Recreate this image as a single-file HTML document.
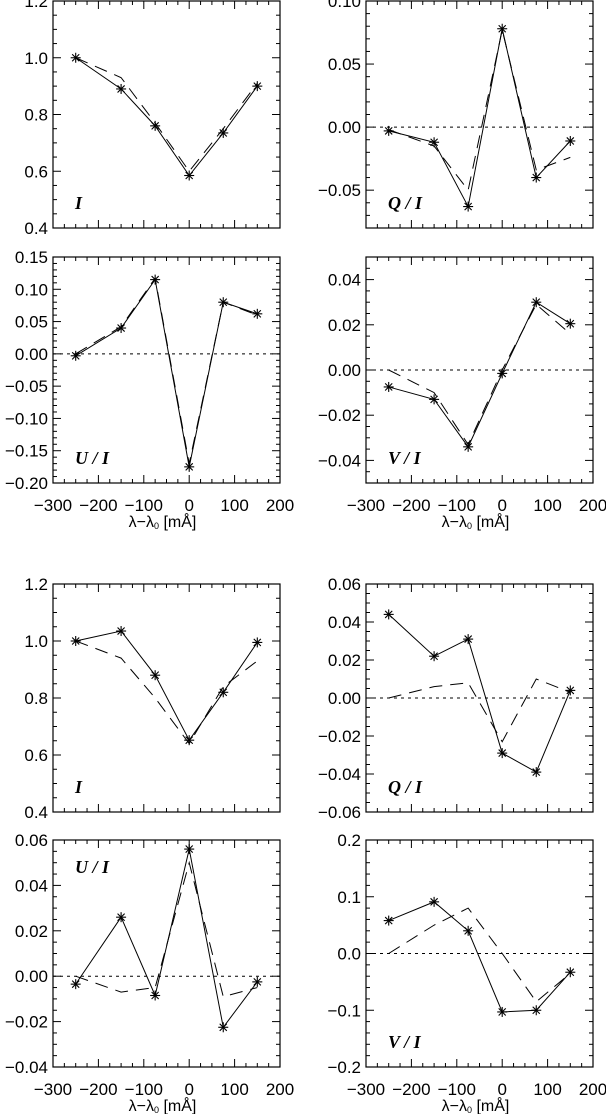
<!DOCTYPE html>
<html><head><meta charset="utf-8">
<style>
html,body{margin:0;padding:0;background:#fff;}
svg{display:block;font-family:"Liberation Sans",sans-serif;}
</style></head>
<body>
<svg id="fig" width="606" height="1114" viewBox="0 0 606 1114" xmlns="http://www.w3.org/2000/svg"></svg>
<script>
const xs = [-250, -150, -75, 0, 75, 150];
const xTicks = [-300, -200, -100, 0, 100, 200];
const xTickLabels = ["\u2212300", "\u2212200", "\u2212100", "0", "100", "200"];

const p1Solid = [1.0, 0.89, 0.76, 0.585, 0.735, 0.9];
const p1Dash = [1.0, 0.93, 0.77, 0.6, 0.75, 0.91];
const p2Solid = [-0.003, -0.012, -0.063, 0.078, -0.040, -0.011];
const p2Dash = [-0.002, -0.015, -0.05, 0.077, -0.034, -0.024];
const p3Solid = [-0.003, 0.04, 0.115, -0.175, 0.08, 0.062];
const p3Dash = [0.0, 0.042, 0.117, -0.17, 0.08, 0.06];
const p4Solid = [-0.0075, -0.013, -0.034, -0.0015, 0.030, 0.0205];
const p4Dash = [0.0, -0.01, -0.033, 0.0, 0.029, 0.016];
const p5Solid = [1.0, 1.035, 0.88, 0.652, 0.82, 0.995];
const p5Dash = [1.0, 0.94, 0.80, 0.64, 0.84, 0.93];
const p6Solid = [0.044, 0.022, 0.031, -0.029, -0.039, 0.004];
const p6Dash = [0.0, 0.006, 0.008, -0.023, 0.010, 0.003];
const p7Solid = [-0.0035, 0.026, -0.0085, 0.056, -0.0225, -0.0025];
const p7Dash = [0.0, -0.007, -0.005, 0.05, -0.009, -0.005];
const p8Solid = [0.058, 0.091, 0.04, -0.103, -0.1, -0.033];
const p8Dash = [0.0, 0.05, 0.08, 0.0, -0.085, -0.035];

const p1Ticks = [0.4, 0.6, 0.8, 1.0, 1.2];
const p2Ticks = [-0.05, 0.0, 0.05, 0.10];
const p3Ticks = [-0.20, -0.15, -0.10, -0.05, 0.0, 0.05, 0.10, 0.15];
const p4Ticks = [-0.04, -0.02, 0.0, 0.02, 0.04];
const p6Ticks = [-0.06, -0.04, -0.02, 0.0, 0.02, 0.04, 0.06];
const p7Ticks = [-0.04, -0.02, 0.0, 0.02, 0.04, 0.06];
const p8Ticks = [-0.2, -0.1, 0.0, 0.1, 0.2];

const NS = "http://www.w3.org/2000/svg";
const svg = document.getElementById('fig');
function el(tag, attrs, parent){
  const e = document.createElementNS(NS, tag);
  for (const k in attrs) e.setAttribute(k, attrs[k]);
  (parent||svg).appendChild(e);
  return e;
}
function fmt(v, dec){
  const s = Math.abs(v).toFixed(dec);
  return (v < -1e-9 ? "\u2212" : "") + s;
}

const panels = [
  {name:'top-left-I', L:53, T:1, W:227, H:227, ymin:0.4, ymax:1.2, ticks:p1Ticks, dec:1, minor:0.05, solid:p1Solid, dash:p1Dash, label:'I', labTop:false, zero:false, xlab:false},
  {name:'top-right-Q', L:366, T:1, W:227, H:227, ymin:-0.08, ymax:0.10, ticks:p2Ticks, dec:2, minor:0.01, solid:p2Solid, dash:p2Dash, label:'Q/I', labTop:false, zero:true, xlab:false},
  {name:'top-left-U', L:53, T:257, W:227, H:226, ymin:-0.20, ymax:0.15, ticks:p3Ticks, dec:2, minor:0.01, solid:p3Solid, dash:p3Dash, label:'U/I', labTop:false, zero:true, xlab:true},
  {name:'top-right-V', L:366, T:257, W:227, H:226, ymin:-0.05, ymax:0.05, ticks:p4Ticks, dec:2, minor:0.005, solid:p4Solid, dash:p4Dash, label:'V/I', labTop:false, zero:true, xlab:true},
  {name:'bottom-left-I', L:53, T:584, W:227, H:228, ymin:0.4, ymax:1.2, ticks:p1Ticks, dec:1, minor:0.05, solid:p5Solid, dash:p5Dash, label:'I', labTop:false, zero:false, xlab:false},
  {name:'bottom-right-Q', L:366, T:584, W:227, H:228, ymin:-0.06, ymax:0.06, ticks:p6Ticks, dec:2, minor:0.005, solid:p6Solid, dash:p6Dash, label:'Q/I', labTop:false, zero:true, xlab:false},
  {name:'bottom-left-U', L:53, T:840, W:227, H:227, ymin:-0.04, ymax:0.06, ticks:p7Ticks, dec:2, minor:0.005, solid:p7Solid, dash:p7Dash, label:'U/I', labTop:true, zero:true, xlab:true},
  {name:'bottom-right-V', L:366, T:840, W:227, H:227, ymin:-0.2, ymax:0.2, ticks:p8Ticks, dec:1, minor:0.02, solid:p8Solid, dash:p8Dash, label:'V/I', labTop:false, zero:true, xlab:true}
];

panels.forEach(p => {
  const g = el('g', {});
  
  
  const sx = v => p.L + (v + 300) / 500 * p.W;
  const sy = v => p.T + (p.ymax - v) / (p.ymax - p.ymin) * p.H;
  const B = p.T + p.H, R = p.L + p.W;

  const fr = el('rect', {x:p.L, y:p.T, width:p.W, height:p.H, fill:'none', stroke:'#000', 'stroke-width':1.2}, g);
  
  

  for (let v = -300; v <= 200; v += 25) {
    const major = v % 100 === 0;
    const len = major ? 8 : 4;
    el('line', {x1:sx(v), x2:sx(v), y1:B, y2:B-len, stroke:'#000', 'stroke-width':1}, g);
    el('line', {x1:sx(v), x2:sx(v), y1:p.T, y2:p.T+len, stroke:'#000', 'stroke-width':1}, g);
  }
  const n = Math.round((p.ymax - p.ymin) / p.minor);
  for (let i = 0; i <= n; i++) {
    const v = p.ymin + i * p.minor;
    const isMajor = p.ticks.some(t => Math.abs(t - v) < 1e-9);
    const len = isMajor ? 8 : 4;
    el('line', {x1:p.L, x2:p.L+len, y1:sy(v), y2:sy(v), stroke:'#000', 'stroke-width':1}, g);
    el('line', {x1:R, x2:R-len, y1:sy(v), y2:sy(v), stroke:'#000', 'stroke-width':1}, g);
  }
  p.ticks.forEach(t => {
    const tx = el('text', {x:p.L-5, y:sy(t)+6, 'text-anchor':'end', 'font-size':17, fill:'#000'}, g);
    tx.textContent = fmt(t, p.dec);
    
    
  });
  if (p.xlab) {
    xTicks.forEach((t, i) => {
      const tx = el('text', {x:sx(t), y:B+28, 'text-anchor':'middle', 'font-size':17, fill:'#000'}, g);
      tx.textContent = xTickLabels[i];
      
      
    });
    const tt = el('text', {x:p.L + p.W/2 - 4, y:B+44, 'text-anchor':'middle', 'font-size':16, fill:'#000'}, g);
    tt.innerHTML = '\u03bb\u2212\u03bb<tspan font-size="9" dy="2">0</tspan><tspan dy="-2"> [m\u00c5]</tspan>';
    
    
  }
  if (p.zero) {
    const z = el('line', {x1:p.L, x2:R, y1:sy(0), y2:sy(0), stroke:'#000', 'stroke-width':1, 'stroke-dasharray':'3,4'}, g);
    
    
  }
  const dpts = xs.map((x, i) => sx(x) + ',' + sy(p.dash[i])).join(' ');
  const dl = el('polyline', {points:dpts, fill:'none', stroke:'#000', 'stroke-width':1, 'stroke-dasharray':'13,8'}, g);
  
  
  const spts = xs.map((x, i) => sx(x) + ',' + sy(p.solid[i])).join(' ');
  const sl = el('polyline', {points:spts, fill:'none', stroke:'#000', 'stroke-width':1}, g);
  
  
  xs.forEach((x, i) => {
    const cx = sx(x), cy = sy(p.solid[i]), r = 5;
    const m = el('g', {}, g);
    
    
    [0, 45, 90, 135].forEach(a => {
      const rad = a * Math.PI / 180;
      el('line', {x1:cx - r*Math.cos(rad), y1:cy - r*Math.sin(rad), x2:cx + r*Math.cos(rad), y2:cy + r*Math.sin(rad), stroke:'#000', 'stroke-width':1.1}, m);
    });
  });
  const ly = p.labTop ? p.T + 33 : B - 19;
  const lb = el('text', {x:p.L + 22, y:ly, 'font-family':'"Liberation Serif",serif', 'font-style':'italic', 'font-weight':'bold', 'font-size':18, fill:'#000'}, g);
  lb.textContent = p.label.replace('/', ' / ');
  
  
});
</script>
</body></html>
